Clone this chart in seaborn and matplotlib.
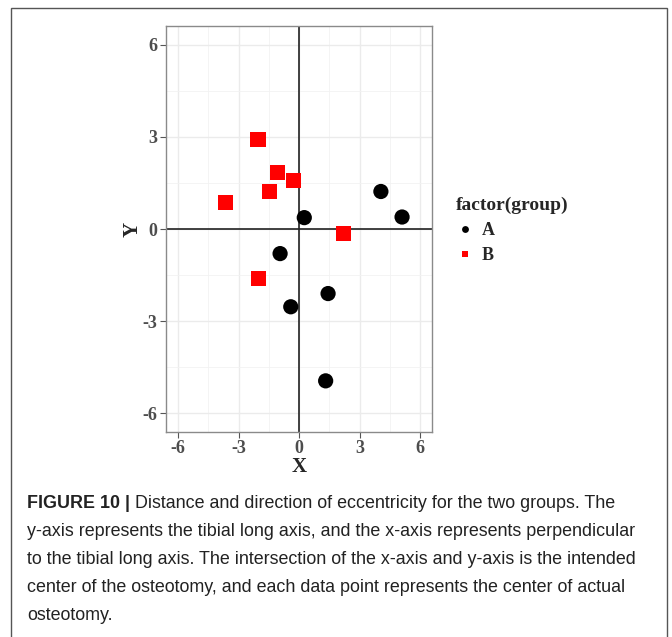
import pandas as pd
import matplotlib.pyplot as plt
import seaborn as sns
from matplotlib.patches import Rectangle

# values
group = ['A', 'A', 'A', 'A', 'A', 'A', 'A', 'B', 'B', 'B', 'B', 'B', 'B', 'B']
x_val = [4.06, 5.11, 0.26, -0.94, 1.44, -0.41, 1.32, -2.04, -1.05, -1.47, -0.26, -3.66, 2.21, -2.01]
y_val = [1.22, 0.39, 0.37, -0.80, -2.10, -2.53, -4.94, 2.90, 1.85, 1.22, 1.59, 0.85, -0.14, -1.60]
ticks = [-6, -3, 0, 3, 6]
minor_ticks = [-4.5, -1.5, 1.5, 4.5]

df = pd.DataFrame({'X': x_val, 'Y': y_val, 'group': group})

sns.set_style('white')
plt.rcParams['axes.unicode_minus'] = False
serif = ['Liberation Serif', 'DejaVu Serif']

fig = plt.figure(figsize=(6.72, 6.37), dpi=100)
ax = fig.add_axes([0.247, 0.322, 0.396, 0.637])

ax.set_xlim(-6.6, 6.6)
ax.set_ylim(-6.6, 6.6)
ax.set_xticks(ticks)
ax.set_yticks(ticks)
ax.set_xticks(minor_ticks, minor=True)
ax.set_yticks(minor_ticks, minor=True)
ax.grid(True, which='major', color='#ebebeb', linewidth=1.0)
ax.grid(True, which='minor', color='#f2f2f2', linewidth=0.6)
ax.set_axisbelow(True)
ax.axhline(0, color='#222222', linewidth=1.2, zorder=1)
ax.axvline(0, color='#222222', linewidth=1.2, zorder=1)

sns.scatterplot(data=df, x='X', y='Y', hue='group', style='group',
                markers={'A': 'o', 'B': 's'},
                palette={'A': 'black', 'B': '#ff0000'},
                s=120, linewidth=0, ax=ax, zorder=3)

for sp in ax.spines.values():
    sp.set_color('#8a8a8a')
    sp.set_linewidth(1.0)

ax.tick_params(which='major', direction='out', length=4, width=0.8, color='#555555',
               labelcolor='#4d4d4d', labelsize=13, left=True, bottom=True, pad=2)
ax.tick_params(which='minor', length=0)
for lab in ax.get_xticklabels() + ax.get_yticklabels():
    lab.set_fontfamily(serif)
    lab.set_fontweight('bold')

ax.set_xlabel('X', fontsize=15, fontweight='bold', family=serif, labelpad=0)
ax.set_ylabel('Y', fontsize=15, fontweight='bold', family=serif, labelpad=0)

leg = ax.legend(title='factor(group)', loc='upper left', bbox_to_anchor=(1.03, 0.62),
                frameon=False, markerscale=0.45, handlelength=1.0, handletextpad=0.4,
                labelspacing=0.45,
                prop={'family': serif, 'weight': 'bold', 'size': 13})
leg.get_title().set_fontfamily(serif)
leg.get_title().set_fontweight('bold')
leg.get_title().set_fontsize(14)
leg._legend_box.align = 'left'

# outer frame
fig.patches.append(Rectangle((11 / 672, -0.01), 656 / 672, 1 - 8 / 637 + 0.01,
                             transform=fig.transFigure, fill=False,
                             edgecolor='#555555', linewidth=1.0))

# caption
cap_font = ['Liberation Sans', 'DejaVu Sans']
cap_size = 12.9
x0 = 27 / 672
line_y = [503, 531, 559, 587, 615]
bold = fig.text(x0, 1 - line_y[0] / 637, 'FIGURE 10 | ', fontsize=cap_size, fontweight='bold',
                family=cap_font, va='center', color='#222222')
fig.canvas.draw()
bb = bold.get_window_extent()
fig.text(bb.x1 / fig.bbox.width, 1 - line_y[0] / 637,
         'Distance and direction of eccentricity for the two groups. The',
         fontsize=cap_size, family=cap_font, va='center', color='#222222')
rest = [
    'y-axis represents the tibial long axis, and the x-axis represents perpendicular',
    'to the tibial long axis. The intersection of the x-axis and y-axis is the intended',
    'center of the osteotomy, and each data point represents the center of actual',
    'osteotomy.',
]
for ly, t in zip(line_y[1:], rest):
    fig.text(x0, 1 - ly / 637, t, fontsize=cap_size, family=cap_font, va='center', color='#222222')

fig.savefig('out.png', dpi=100)
